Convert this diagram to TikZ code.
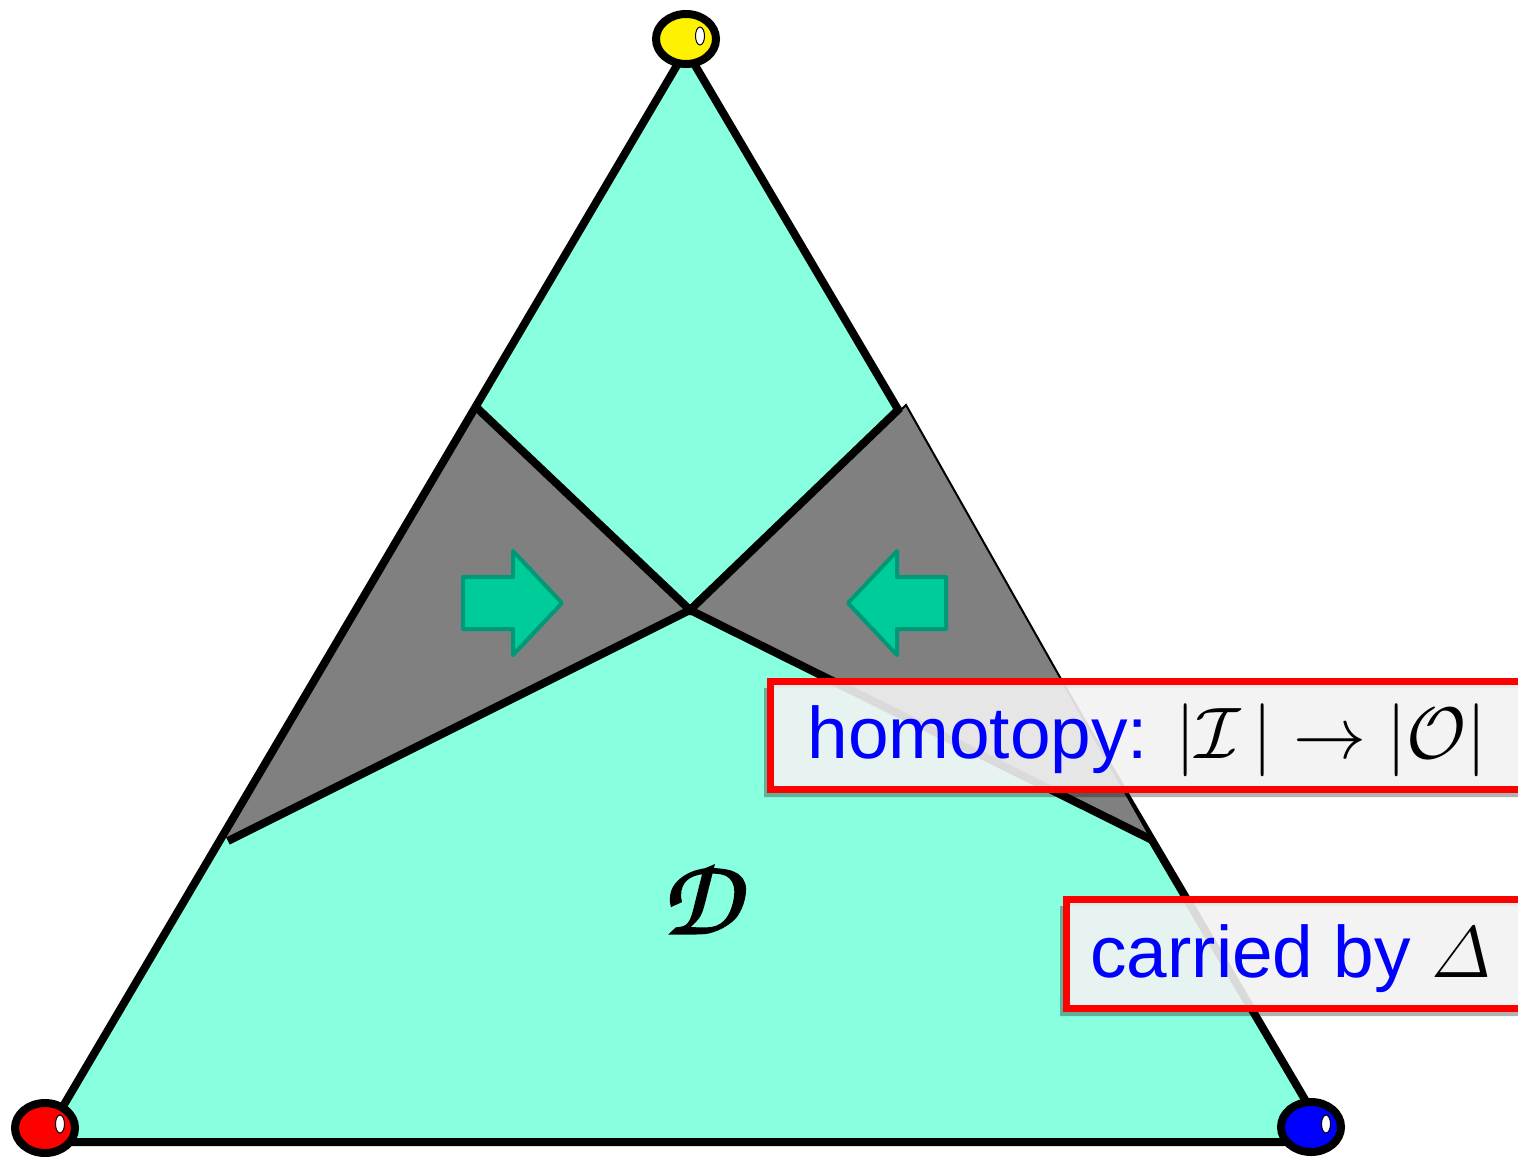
\documentclass[tikz,border=0pt]{standalone}
\usepackage{fix-cm}
\usepackage{amsmath}
\usepackage{fontspec}
\setmainfont{Liberation Sans}
\usetikzlibrary{shapes.geometric}
\definecolor{aqua}{HTML}{88FFDE}
\definecolor{grayreg}{HTML}{808080}
\definecolor{arrfill}{HTML}{00CC99}
\definecolor{arrline}{HTML}{009977}
\definecolor{boxfill}{HTML}{F2F2F2}
\tikzset{
  thickedge/.style={line width=4pt, line join=round, line cap=round},
  innerline/.style={line width=4pt, line join=miter, line cap=butt},
  arrowshape/.style={fill=arrfill, draw=arrline, line width=2pt, line join=round},
  vdot/.style={ellipse, draw=black, line width=4pt, minimum width=30pt, minimum height=25pt, inner sep=0pt},
  hilite/.style={ellipse, draw=black, line width=0.5pt, fill=white, minimum width=4.5pt, minimum height=9pt, inner sep=0pt},
  labelbox/.style={draw=red, line width=3.5pt, fill=boxfill, fill opacity=0.9},
  boxshadow/.style={fill=black, opacity=0.3, even odd rule},
  labeltext/.style={anchor=base west, inner sep=0pt, text=blue, font=\fontsize{36.5}{40}\selectfont}
}
\newcommand{\chancery}[1]{{\fontencoding{T1}\fontfamily{pzc}\fontseries{mb}\fontshape{it}\fontsize{55}{60}\selectfont\special{pdf:literal direct 2 Tr 1.1 w}#1\special{pdf:literal direct 0 Tr}}}
\begin{document}
\begin{tikzpicture}[x=0.5pt, y=-0.5pt]
\path[use as bounding box] (0,0) rectangle (1518,1156);
\clip (0,0) rectangle (1518,1156);
% vertices
\coordinate (A) at (686,50);
\coordinate (B) at (42,1142);
\coordinate (C) at (1330,1142);
\coordinate (M) at (690,610);
\coordinate (L1) at (476,407);
\coordinate (L2) at (228,841);
\coordinate (R1) at (900,408);
\coordinate (R2) at (1152,840);
% triangle fill
\fill[aqua] (A) -- (B) -- (C) -- cycle;
% left gray region
\fill[grayreg] (475,407) -- (M) -- (220,841) -- cycle;
% triangle outline
\draw[thickedge] (A) -- (B) -- (C) -- cycle;
% right gray region (covers part of the edge, thin outline)
\filldraw[fill=grayreg, draw=black, line width=1pt] (906,405) -- (M) -- (1152,840) -- cycle;
% inner lines
\draw[innerline] (L1) -- (M) -- (R1);
\draw[innerline] (L2) -- (M) -- (R2);
% arrows
\draw[arrowshape] (463,577) -- (513,577) -- (513,551) -- (562,603) -- (513,655) -- (513,629) -- (463,629) -- cycle;
\draw[arrowshape] (946,577) -- (897,577) -- (897,551) -- (848,603) -- (897,655) -- (897,629) -- (946,629) -- cycle;
% vertex dots
\node[vdot, fill=yellow] (top) at (686,39) {};
\node[vdot, fill=red] (left) at (45,1128) {};
\node[vdot, fill=blue] (right) at (1311,1127) {};
\node[hilite] (toph) at (700,36) {};
\node[hilite] (lefth) at (60,1124) {};
\node[hilite] (righth) at (1326,1124) {};
% D symbol
\node[inner sep=0pt] (D) at (700,898) {\chancery{D}};
% label boxes
\fill[boxshadow] (764,688) rectangle (1530,797) (768,679) rectangle (1530,791);
\draw[labelbox] (770,681) rectangle (1521,789);
\node[labeltext] (hom) at (807,758) {homotopy: \color{black}$|\mathcal{I}\,|\to|\mathcal{O}|$};
\fill[boxshadow] (1060,906) rectangle (1530,1016) (1064,897) rectangle (1530,1010);
\draw[labelbox] (1066,899) rectangle (1521,1008);
\node[labeltext] (car) at (1090,977) {carried by \color{black}$\varDelta$};
\end{tikzpicture}
\end{document}
